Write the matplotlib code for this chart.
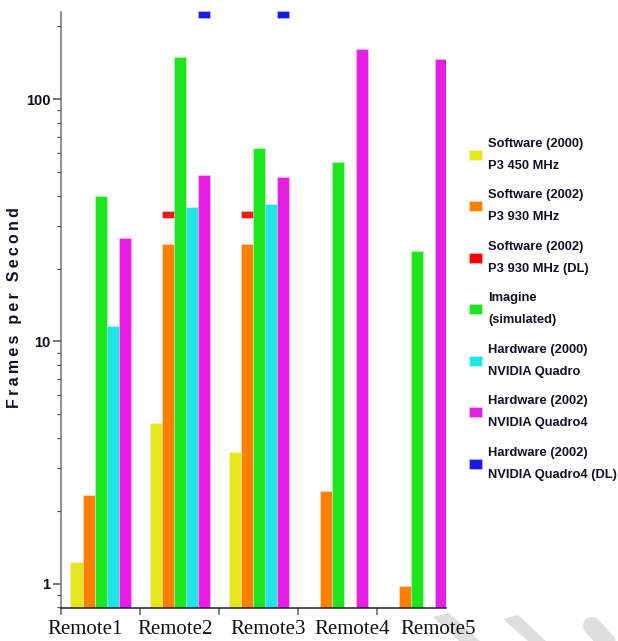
import numpy as np
import matplotlib
matplotlib.use("Agg")
import matplotlib.pyplot as plt
from matplotlib.patches import Patch, Polygon
from matplotlib.lines import Line2D
from matplotlib.ticker import LogLocator, NullFormatter, FixedLocator, FixedFormatter

# ---- data -------------------------------------------------------------
categories = ["Remote1", "Remote2", "Remote3", "Remote4", "Remote5"]
nan = np.nan
sw_2000 = [1.23, 4.6, 3.5, nan, nan]          # Software (2000) P3 450 MHz
sw_2002 = [2.33, 25.3, 25.3, 2.42, 0.98]      # Software (2002) P3 930 MHz
sw_2002_dl = [nan, 33.3, 33.3, nan, nan]      # Software (2002) P3 930 MHz (DL)
imagine = [40.0, 149.0, 63.0, 55.0, 23.7]     # Imagine (simulated)
hw_2000 = [11.6, 35.8, 36.8, nan, nan]        # Hardware (2000) NVIDIA Quadro
hw_2002 = [26.6, 48.7, 47.9, 161.0, 146.0]    # Hardware (2002) NVIDIA Quadro4
hw_2002_dl = [nan, 223.0, 223.0, nan, nan]    # Hardware (2002) NVIDIA Quadro4 (DL)

labels = [
    "Software (2000)\nP3 450 MHz",
    "Software (2002)\nP3 930 MHz",
    "Software (2002)\nP3 930 MHz (DL)",
    "Imagine\n(simulated)",
    "Hardware (2000)\nNVIDIA Quadro",
    "Hardware (2002)\nNVIDIA Quadro4",
    "Hardware (2002)\nNVIDIA Quadro4 (DL)",
]

# ---- styling ----------------------------------------------------------
c_yellow = "#e6e61e"
c_orange = "#ff8000"
c_red = "#e81c1c"
c_green = "#1ee61e"
c_cyan = "#1ee6e6"
c_magenta = "#e61ee6"
c_blue = "#1a1ae6"

W, H = 618, 641
fig = plt.figure(figsize=(W / 100, H / 100), dpi=100)
fig.patch.set_facecolor("white")

ax = fig.add_axes([61 / W, (H - 608) / H, (446 - 61) / W, (608 - 12) / H])
ax.set_facecolor("none")
ax.set_yscale("log")
ax.set_xlim(0, 4.87)
ax.set_ylim(0.796, 228.5)

sans = ["Liberation Sans", "DejaVu Sans"]

bar_w = 0.152
x0 = np.arange(len(categories)) + 0.5


def slot(j):
    return x0 + (j - 2) * bar_w


def draw_bars(vals, j, color):
    v = np.asarray(vals, dtype=float)
    m = ~np.isnan(v)
    ax.bar(slot(j)[m], v[m], width=bar_w, bottom=0.0001, color=color,
           edgecolor=(1, 1, 1, 0.5), linewidth=0.4, zorder=2)


def draw_dashes(vals, j, color, half=0.0145):
    # short horizontal markers, roughly 7 px tall on the log axis
    v = np.asarray(vals, dtype=float)
    m = ~np.isnan(v)
    lo = v[m] / 10 ** half
    hi = v[m] * 10 ** half
    ax.bar(slot(j)[m], hi - lo, width=bar_w, bottom=lo, color=color,
           edgecolor=(1, 1, 1, 0.5), linewidth=0.4, zorder=3, clip_on=False)


draw_bars(sw_2000, 0, c_yellow)
draw_bars(sw_2002, 1, c_orange)
draw_dashes(sw_2002_dl, 1, c_red)
draw_bars(imagine, 2, c_green)
draw_bars(hw_2000, 3, c_cyan)
draw_bars(hw_2002, 4, c_magenta)
draw_dashes(hw_2002_dl, 4, c_blue)

# ---- axes -------------------------------------------------------------
for s in ("top", "right"):
    ax.spines[s].set_visible(False)
ax.spines["left"].set_color("#707070")
ax.spines["left"].set_linewidth(1.1)
ax.spines["bottom"].set_color("#202020")
ax.spines["bottom"].set_linewidth(1.1)

ax.yaxis.set_major_locator(FixedLocator([1, 10, 100]))
ax.yaxis.set_major_formatter(FixedFormatter(["1", "10", "100"]))
ax.yaxis.set_minor_locator(LogLocator(base=10, subs=np.arange(2, 10)))
ax.yaxis.set_minor_formatter(NullFormatter())
ax.tick_params(axis="y", which="major", length=5.8, width=1.1, color="#505050",
               pad=2, labelsize=10.5, labelcolor="#111122")
ax.tick_params(axis="y", which="minor", length=2.6, width=0.9, color="#505050")
for t in ax.get_yticklabels():
    t.set_family(sans)
    t.set_fontweight("bold")

# group boundaries as major ticks, names as tick-less minor labels
label_pos = [0.31, 1.44, 2.62, 3.68, 4.77]
ax.xaxis.set_major_locator(FixedLocator(np.arange(len(categories))))
ax.xaxis.set_major_formatter(NullFormatter())
ax.xaxis.set_minor_locator(FixedLocator(label_pos))
ax.xaxis.set_minor_formatter(FixedFormatter(categories))
ax.tick_params(axis="x", which="major", length=5, width=1.1, color="#606060")
ax.tick_params(axis="x", which="minor", length=0, pad=9, labelsize=15,
               labelcolor="#111111")
for t in ax.get_xticklabels(minor=True):
    t.set_family(["Liberation Serif", "DejaVu Serif"])

thin = "\u2009"
ylabel = thin.join("Frames per Second")
fig.text(15 / W, 1 - 308 / H, ylabel, rotation=90, ha="center", va="center",
         fontsize=11.5, fontweight="bold", color="#111122", family=sans)

# ---- legend -----------------------------------------------------------
colors = [c_yellow, c_orange, "#ff0000", c_green, c_cyan, c_magenta, c_blue]
handles = [Patch(facecolor=c, edgecolor=(1, 1, 1, 0.5), linewidth=0.4) for c in colors]
leg = fig.legend(handles, labels, loc="upper left",
                 bbox_to_anchor=(469 / W, 1 - 138 / H),
                 frameon=False, borderpad=0, borderaxespad=0,
                 handlelength=1.0, handleheight=0.8, handletextpad=0.5,
                 labelspacing=1.36,
                 prop={"family": sans, "weight": "bold", "size": 9.3})
for t in leg.get_texts():
    t.set_color("#111122")
    t.set_linespacing(2.1)

# ---- faint diagonal strokes along the lower edge -----------------------
def px(pts):
    return [(x / W, 1 - y / H) for x, y in pts]


wm = "#dedede"
fig.patches.append(Polygon(px([(433, 617), (449, 613), (480, 641), (459, 641)]),
                           closed=True, transform=fig.transFigure,
                           facecolor=wm, edgecolor="none", zorder=-1))
fig.patches.append(Polygon(px([(503, 619), (518, 615), (546, 641), (528, 641)]),
                           closed=True, transform=fig.transFigure,
                           facecolor=wm, edgecolor="none", zorder=-1))
fig.lines.append(Line2D([592 / W, 614 / W], [1 - 626 / H, 1 - 650 / H],
                        transform=fig.transFigure, color=wm, linewidth=13,
                        solid_capstyle="round", zorder=-1))

fig.savefig("out.png", dpi=100, facecolor="white")
